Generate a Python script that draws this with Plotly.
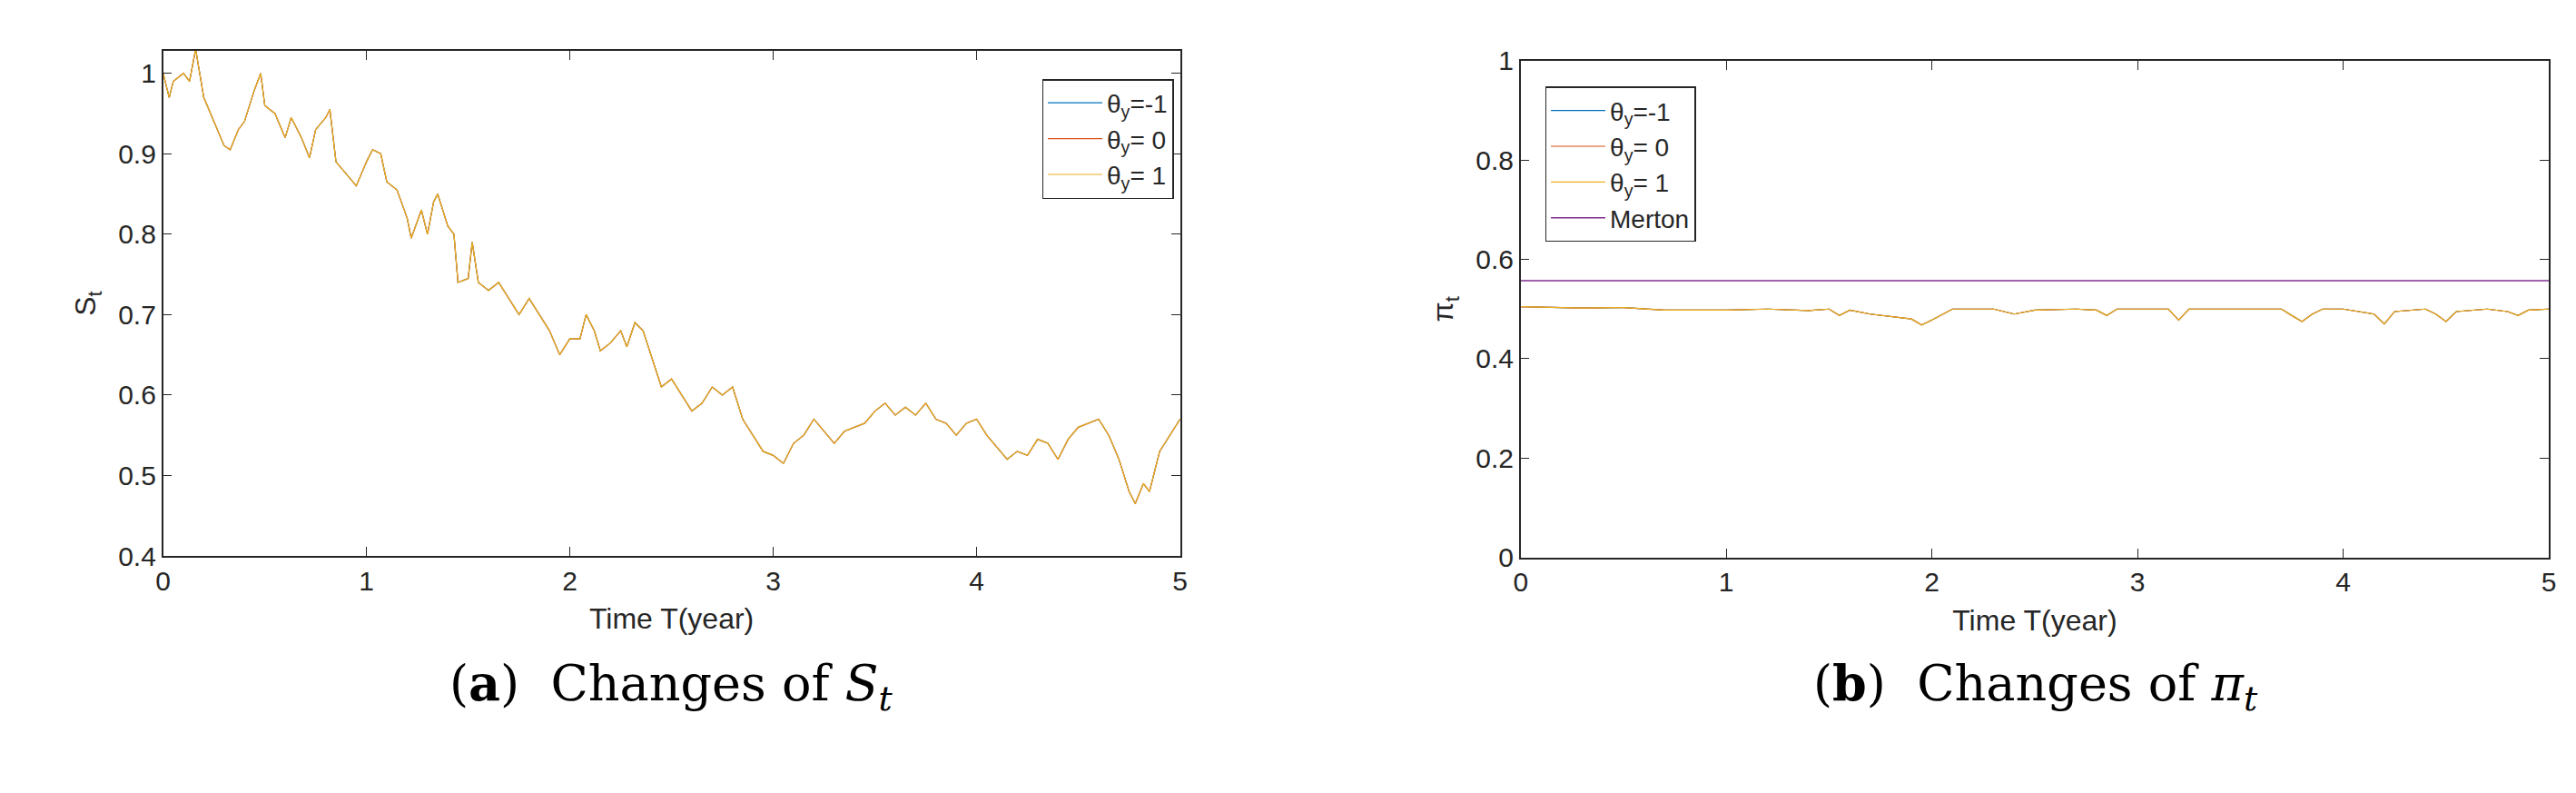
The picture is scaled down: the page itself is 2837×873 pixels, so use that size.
import plotly.graph_objects as go

t_s = [0,0.03,0.05,0.1,0.13,0.16,0.18,0.2,0.25,0.3,0.33,0.37,0.4,0.45,0.48,0.5,0.55,0.6,0.63,0.68,0.72,0.75,0.8,0.82,0.85,0.9,0.95,1.0,1.03,1.07,1.1,1.15,1.2,1.22,1.27,1.3,1.33,1.35,1.4,1.43,1.45,1.5,1.52,1.55,1.6,1.65,1.7,1.75,1.8,1.85,1.9,1.95,2.0,2.05,2.08,2.12,2.15,2.2,2.25,2.28,2.32,2.36,2.4,2.45,2.5,2.55,2.6,2.65,2.7,2.75,2.8,2.85,2.9,2.95,3.0,3.05,3.1,3.15,3.2,3.25,3.3,3.35,3.4,3.45,3.5,3.55,3.6,3.65,3.7,3.75,3.8,3.85,3.9,3.95,4.0,4.05,4.1,4.15,4.2,4.25,4.3,4.35,4.4,4.45,4.5,4.55,4.6,4.65,4.7,4.75,4.78,4.82,4.85,4.9,4.95,5.0]
s_vals = [1.0,0.97,0.99,1.0,0.99,1.03,1.0,0.97,0.94,0.91,0.905,0.93,0.94,0.98,1.0,0.96,0.95,0.92,0.945,0.92,0.895,0.93,0.945,0.955,0.89,0.875,0.86,0.89,0.905,0.9,0.865,0.855,0.82,0.795,0.83,0.8,0.84,0.85,0.81,0.8,0.74,0.745,0.79,0.74,0.73,0.74,0.72,0.70,0.72,0.70,0.68,0.65,0.67,0.67,0.70,0.68,0.655,0.665,0.68,0.66,0.69,0.68,0.65,0.61,0.62,0.6,0.58,0.59,0.61,0.6,0.61,0.57,0.55,0.53,0.525,0.515,0.54,0.55,0.57,0.555,0.54,0.555,0.56,0.565,0.58,0.59,0.575,0.585,0.575,0.59,0.57,0.565,0.55,0.565,0.57,0.55,0.535,0.52,0.53,0.525,0.545,0.54,0.52,0.545,0.56,0.565,0.57,0.55,0.52,0.48,0.465,0.49,0.48,0.53,0.55,0.57]

t_p = [0,0.3,0.5,0.7,1.0,1.2,1.4,1.5,1.55,1.6,1.7,1.8,1.9,1.95,2.0,2.1,2.3,2.4,2.5,2.7,2.8,2.85,2.9,3.1,3.15,3.2,3.25,3.5,3.7,3.75,3.8,3.85,3.9,4.0,4.15,4.2,4.25,4.4,4.45,4.5,4.55,4.7,4.8,4.85,4.9,5.0]
pi_vals = [0.505,0.502,0.503,0.498,0.498,0.5,0.497,0.5,0.487,0.498,0.49,0.485,0.48,0.468,0.478,0.5,0.5,0.49,0.498,0.5,0.498,0.487,0.5,0.5,0.5,0.478,0.5,0.5,0.5,0.487,0.475,0.49,0.5,0.5,0.49,0.47,0.495,0.5,0.49,0.475,0.495,0.5,0.495,0.487,0.498,0.5]
merton = 0.557

names = ["θ<sub>y</sub>=-1", "θ<sub>y</sub>= 0", "θ<sub>y</sub>= 1"]
colors = ["#0072BD", "#D95319", "#EDB120"]

fig = go.Figure()
for n, c in zip(names, colors):
    fig.add_trace(go.Scatter(x=t_s, y=s_vals, mode="lines", name=n, line=dict(color=c, width=1.2),
                             xaxis="x", yaxis="y", legend="legend"))
for n, c in zip(names, colors):
    fig.add_trace(go.Scatter(x=t_p, y=pi_vals, mode="lines", name=n, line=dict(color=c, width=1.2),
                             xaxis="x2", yaxis="y2", legend="legend2"))
fig.add_trace(go.Scatter(x=[0, 5], y=[merton, merton], mode="lines", name="Merton",
                         line=dict(color="#7E2F8E", width=1.5), xaxis="x2", yaxis="y2", legend="legend2"))

ax = dict(showline=True, mirror="ticks", linecolor="#262626", linewidth=1.5, ticks="inside",
          ticklen=10, tickcolor="#262626", showgrid=False, zeroline=False,
          tickfont=dict(family="Liberation Sans", size=30, color="#262626"))
tf = dict(family="Liberation Sans", size=32, color="#262626")
lf = dict(family="Liberation Sans", size=28, color="#262626")
fig.update_layout(
    width=2837, height=873, plot_bgcolor="white", paper_bgcolor="white",
    margin=dict(l=0, r=0, t=0, b=0),
    xaxis=dict(domain=[0.058, 0.455], range=[0, 5], dtick=1, title=dict(text="Time T(year)", font=tf), anchor="y", **ax),
    yaxis=dict(domain=[0.30, 0.962], range=[0.4, 1.028], dtick=0.1, title=dict(text="S<sub>t</sub>", font=tf), anchor="x", **ax),
    xaxis2=dict(domain=[0.588, 0.9894], range=[0, 5], dtick=1, title=dict(text="Time T(year)", font=tf), anchor="y2", **ax),
    yaxis2=dict(domain=[0.298, 0.949], range=[0, 1], dtick=0.2, title=dict(text="π<sub>t</sub>", font=tf), anchor="x2", **ax),
    legend=dict(x=0.4525, y=0.925, xanchor="right", yanchor="top", bordercolor="#262626", borderwidth=1.5,
                bgcolor="white", font=lf, tracegroupgap=4, itemwidth=60),
    legend2=dict(x=0.5975, y=0.915, xanchor="left", yanchor="top", bordercolor="#262626", borderwidth=1.5,
                 bgcolor="white", font=lf, itemwidth=60),
    showlegend=True,
)
cf = dict(family="DejaVu Serif", size=54, color="black")
fig.add_annotation(text="(<b>a</b>)  Changes of <i>S</i><sub><i>t</i></sub>", x=0.2565, y=0.085, xanchor="center",
                   xref="paper", yref="paper", showarrow=False, font=cf)
fig.add_annotation(text="(<b>b</b>)  Changes of <i>π</i><sub><i>t</i></sub>", x=0.789, y=0.085, xanchor="center",
                   xref="paper", yref="paper", showarrow=False, font=cf)
fig.write_html("out.html")
